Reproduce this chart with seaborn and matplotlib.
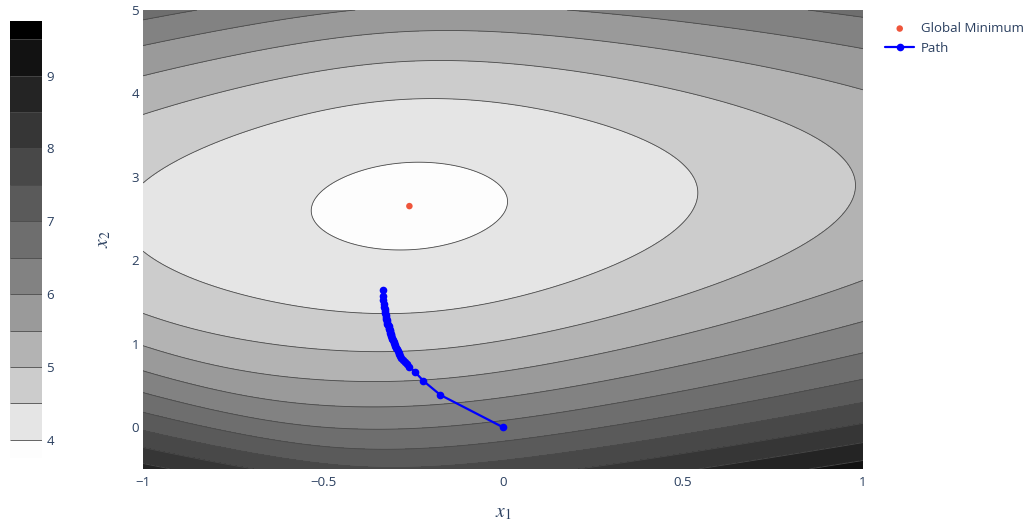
import numpy as np
import seaborn as sns
import matplotlib.pyplot as plt
from matplotlib.colors import ListedColormap, BoundaryNorm

sns.set_style("white")
plt.rcParams['font.family'] = ['Open Sans', 'DejaVu Sans']
plt.rcParams['mathtext.fontset'] = 'stix'

# loss surface, shape
f_min = 3.90
min_x, min_y = -0.26, 2.65
curv_y = 0.365          # curvature across the valley
valley_slope = 0.2      # valley centre drifts up to the right
huber_c, huber_d = 0.52, 0.42   # flattening growth along x
wall_level, wall_slope, wall_gain, wall_soft = 1.3, -3.17, 0.53, 0.3  # steeper lower-left corner

levels = [3.75, 4.0, 4.5, 5.0, 5.5, 6.0, 6.5, 7.0, 7.5, 8.0, 8.5, 9.0, 9.5, 9.75]
band_greys = [253, 229, 204, 179, 154, 130, 110, 90, 72, 54, 36, 18, 0]
cbar_ticks = [4, 5, 6, 7, 8, 9]
x_ticks = [-1, -0.5, 0, 0.5, 1]
x_tick_labels = ["\u22121", "\u22120.5", "0", "0.5", "1"]
y_ticks = [0, 1, 2, 3, 4, 5]

# descent path
path_x = [0.0, -0.174, -0.221, -0.244, -0.260, -0.267, -0.272, -0.278, -0.282,
          -0.285, -0.288, -0.290, -0.292, -0.294, -0.297, -0.299, -0.300, -0.302,
          -0.304, -0.306, -0.307, -0.308, -0.310, -0.311, -0.312, -0.313, -0.314,
          -0.315, -0.316, -0.317, -0.318, -0.320, -0.321, -0.322, -0.322, -0.323,
          -0.324, -0.325, -0.325, -0.326, -0.327, -0.327, -0.328, -0.329, -0.329,
          -0.330, -0.330, -0.331, -0.331, -0.331, -0.332, -0.332, -0.332, -0.333,
          -0.333, -0.333, -0.333, -0.334, -0.334, -0.334, -0.334, -0.334, -0.334]
path_y = [0.0, 0.387, 0.555, 0.66, 0.727, 0.755, 0.78, 0.805, 0.83,
          0.855, 0.875, 0.895, 0.915, 0.935, 0.955, 0.975, 0.99, 1.01,
          1.025, 1.045, 1.06, 1.075, 1.09, 1.105, 1.12, 1.135, 1.15,
          1.165, 1.18, 1.195, 1.21, 1.225, 1.24, 1.255, 1.27, 1.285,
          1.30, 1.315, 1.33, 1.345, 1.36, 1.375, 1.39, 1.405, 1.42,
          1.435, 1.45, 1.465, 1.48, 1.495, 1.51, 1.525, 1.54, 1.555,
          1.57, 1.585, 1.60, 1.615, 1.63, 1.645, 1.66, 1.67, 1.68]
assert len(path_x) == len(path_y)

gx = np.linspace(-1, 1, 400)
gy = np.linspace(-0.5, 5, 400)
X, Y = np.meshgrid(gx, gy)
DX, DY = X - min_x, Y - min_y
Z = (f_min
     + curv_y * (DY - valley_slope * DX) ** 2
     + huber_c * (np.sqrt(1 + (DX / huber_d) ** 2) - 1))
L = wall_level + wall_slope * (X + 1) - Y
Z = Z + wall_gain * wall_soft * np.logaddexp(0, L / wall_soft)

cmap = ListedColormap([(g / 255, g / 255, g / 255) for g in band_greys])
norm = BoundaryNorm(levels, cmap.N)

text_color = '#2a3f5f'
fig = plt.figure(figsize=(10.34, 5.23), dpi=100)
ax = fig.add_axes([0.1383, 0.1033, 0.6963, 0.8776])
cax = fig.add_axes([0.0097, 0.1243, 0.031, 0.8357])

cf = ax.contourf(X, Y, Z, levels=levels, cmap=cmap, norm=norm)
cl = ax.contour(X, Y, Z, levels=levels[1:-1], colors='#4a4a4a', linewidths=0.6)

sns.scatterplot(x=[min_x], y=[min_y], color='#EF553B', s=22,
                edgecolor='none', ax=ax, label='Global Minimum', zorder=5)
sns.lineplot(x=path_x, y=path_y, sort=False, color='blue', marker='o',
             markersize=5.5, markeredgewidth=0, linewidth=1.6, ax=ax,
             label='Path', zorder=4)

ax.set_xlim(-1, 1)
ax.set_ylim(-0.5, 5)
ax.set_xticks(x_ticks)
ax.set_xticklabels(x_tick_labels)
ax.set_yticks(y_ticks)
ax.tick_params(length=0, labelsize=9.5, labelcolor=text_color)
ax.tick_params(axis='x', pad=5)
ax.tick_params(axis='y', pad=3)
for s in ax.spines.values():
    s.set_visible(False)
ax.set_xlabel('$x_1$', fontsize=14, color=text_color, labelpad=10.5)
ax.set_ylabel('$x_2$', fontsize=14, color=text_color, labelpad=13)

handles, labels = ax.get_legend_handles_labels()
ax.get_legend().remove()
fig.legend(handles, labels, loc='upper left', bbox_to_anchor=(0.851, 0.968),
           frameon=False, fontsize=9.5, labelcolor=text_color,
           handlelength=2.2, handletextpad=0.5, borderaxespad=0)

cb = fig.colorbar(cf, cax=cax, ticks=cbar_ticks, spacing='proportional')
cb.add_lines(cl)
cb.outline.set_visible(False)
cb.ax.minorticks_off()
cb.ax.tick_params(length=0, labelsize=9.5, labelcolor=text_color, pad=3)

fig.savefig('out.png', dpi=100)
